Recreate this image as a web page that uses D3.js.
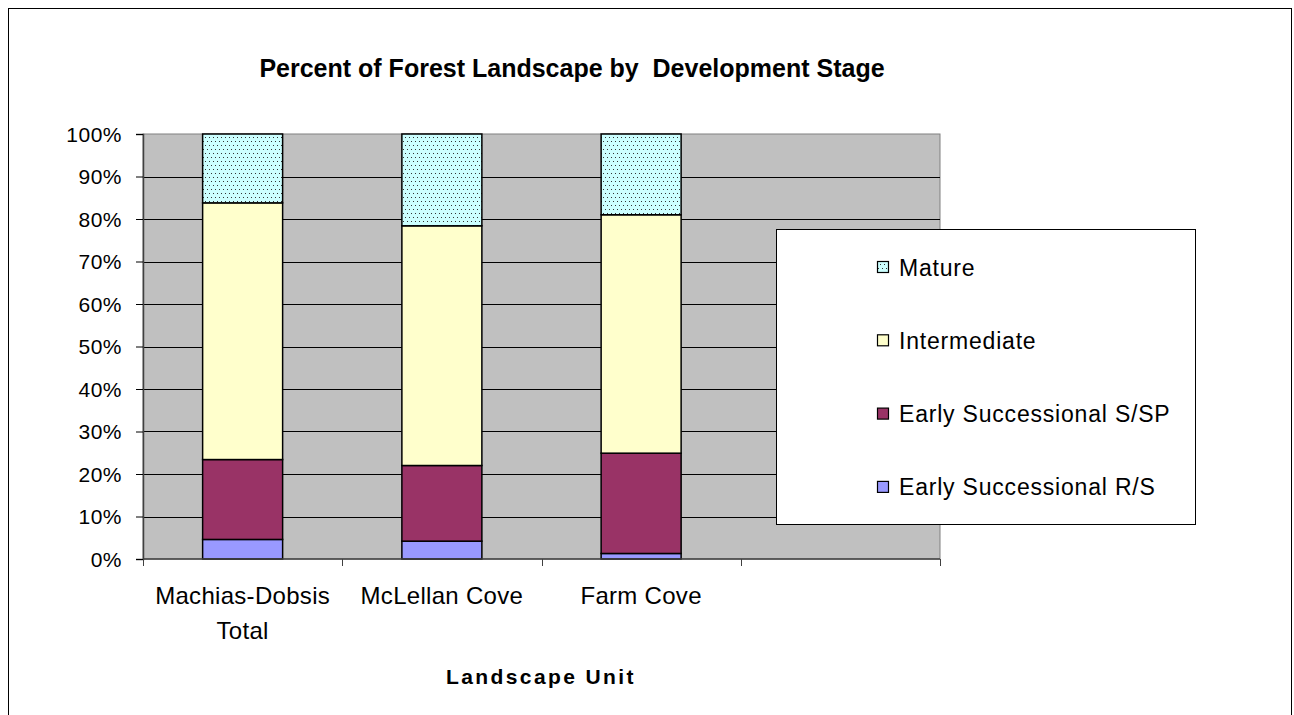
<!DOCTYPE html>
<html>
<head>
<meta charset="utf-8">
<script src="https://cdn.jsdelivr.net/npm/d3@7"></script>
<style>
  body { margin: 0; background: #fff; }
  svg text { font-family: "Liberation Sans", Arial, sans-serif; }
</style>
</head>
<body>
<svg id="chart" width="1294" height="715"></svg>
<script>
// data (percent of landscape)
const units = ["Machias-Dobsis Total", "McLellan Cove", "Farm Cove", ""];
const unitLines = [["Machias-Dobsis", "Total"], ["McLellan Cove"], ["Farm Cove"], [""]];
const stages = ["Early Successional R/S", "Early Successional S/SP", "Intermediate", "Mature"];
const earlyRS = [4.6, 4.2, 1.3, null];
const earlySSP = [18.8, 17.8, 23.6, null];
const intermediate = [60.4, 56.4, 56.1, null];
const mature = [16.2, 21.6, 19.0, null];
const yTicks = [0, 10, 20, 30, 40, 50, 60, 70, 80, 90, 100];

const colors = {
  "Early Successional R/S": "#9999FF",
  "Early Successional S/SP": "#993366",
  "Intermediate": "#FFFFCC",
  "Mature": "url(#dots)"
};

const svg = d3.select("#chart");

// dotted fill for Mature
const pat = svg.append("defs").append("pattern")
  .attr("id", "dots").attr("patternUnits", "userSpaceOnUse")
  .attr("width", 4).attr("height", 8);
pat.append("rect").attr("width", 4).attr("height", 8).attr("fill", "#CCFFFF");
pat.append("rect").attr("x", 1).attr("y", 1).attr("width", 1).attr("height", 1).attr("fill", "#333");
pat.append("rect").attr("x", 3).attr("y", 5).attr("width", 1).attr("height", 1).attr("fill", "#333");

// outer frame
svg.append("rect").attr("x", 8.5).attr("y", 8.5).attr("width", 1283).attr("height", 720)
  .attr("fill", "#fff").attr("stroke", "#000").attr("stroke-width", 1);

const plot = { left: 143, top: 134, right: 940, bottom: 559 };

const x = d3.scaleBand().domain(units).range([plot.left, plot.right]).paddingInner(0).paddingOuter(0);
const y = d3.scaleLinear().domain([0, 100]).range([plot.bottom, plot.top]);

svg.append("rect").attr("x", plot.left).attr("y", plot.top)
  .attr("width", plot.right - plot.left).attr("height", plot.bottom - plot.top)
  .attr("fill", "#C0C0C0").attr("stroke", "#808080").attr("stroke-width", 1);

// gridlines
svg.append("g").selectAll("line").data(yTicks.filter(d => d > 0 && d < 100)).join("line")
  .attr("x1", plot.left).attr("x2", plot.right)
  .attr("y1", d => Math.round(y(d)) + 0.5).attr("y2", d => Math.round(y(d)) + 0.5)
  .attr("stroke", "#000").attr("stroke-width", 1);

// stacked bars
const table = units.map((u, i) => ({
  unit: u,
  "Early Successional R/S": earlyRS[i],
  "Early Successional S/SP": earlySSP[i],
  "Intermediate": intermediate[i],
  "Mature": mature[i]
})).filter(d => d["Intermediate"] != null);

const series = d3.stack().keys(stages)(table);
const barW = 80;

svg.append("g").selectAll("g").data(series).join("g")
  .attr("fill", d => colors[d.key])
  .selectAll("rect").data(d => d).join("rect")
  .attr("x", d => x(d.data.unit) + x.bandwidth() / 2 - barW / 2)
  .attr("y", d => y(d[1]))
  .attr("width", barW)
  .attr("height", d => y(d[0]) - y(d[1]))
  .attr("stroke", "#000").attr("stroke-width", 1.5);

// y axis
const yAxis = d3.axisLeft(y).tickValues(yTicks).tickFormat(d => d + "%").tickSize(7).tickPadding(14);
const yg = svg.append("g").attr("transform", `translate(${plot.left},0)`).call(yAxis);
yg.select(".domain").attr("stroke", "#404040").attr("stroke-width", 1.5);
yg.selectAll(".tick line").attr("stroke", "#000");
yg.selectAll("text").attr("font-size", 21).attr("fill", "#000").attr("dy", "0.35em")
  .style("letter-spacing", "0.5px")
  .style("font-family", "'Liberation Sans', Arial, sans-serif");

// x axis: ticks on band boundaries
const xg = svg.append("g").attr("transform", `translate(0,${plot.bottom})`);
xg.append("line").attr("x1", plot.left).attr("x2", plot.right).attr("y1", 0).attr("y2", 0)
  .attr("stroke", "#404040").attr("stroke-width", 1.5);
const bounds = units.map(u => x(u)).concat([plot.right]);
xg.selectAll("line.tk").data(bounds).join("line").attr("class", "tk")
  .attr("x1", d => Math.round(d) + 0.5).attr("x2", d => Math.round(d) + 0.5)
  .attr("y1", 0).attr("y2", 7).attr("stroke", "#404040").attr("stroke-width", 1);
xg.selectAll("text").data(units).join("text")
  .attr("x", d => x(d) + x.bandwidth() / 2)
  .attr("text-anchor", "middle").attr("font-size", 24).style("letter-spacing", "0.3px")
  .selectAll("tspan").data((d, i) => unitLines[i]).join("tspan")
  .attr("x", function () { return d3.select(this.parentNode).attr("x"); })
  .attr("y", (d, j) => 45 + j * 35)
  .text(d => d);

// titles
svg.append("text").attr("x", 572).attr("y", 77).attr("text-anchor", "middle")
  .attr("font-size", 25).attr("font-weight", "bold").style("white-space", "pre")
  .text("Percent of Forest Landscape by  Development Stage");
svg.append("text").attr("x", 541).attr("y", 684).attr("text-anchor", "middle")
  .attr("font-size", 21).attr("font-weight", "bold").style("letter-spacing", "2.4px")
  .text("Landscape Unit");

// legend
const lg = svg.append("g");
lg.append("rect").attr("x", 776.5).attr("y", 229.5).attr("width", 419).attr("height", 295)
  .attr("fill", "#fff").attr("stroke", "#000").attr("stroke-width", 1);
const legendOrder = stages.slice().reverse();
const li = lg.selectAll("g").data(legendOrder).join("g")
  .attr("transform", (d, i) => `translate(877,${267 + i * 73.3})`);
li.append("rect").attr("x", 0.5).attr("y", -5.5).attr("width", 11).attr("height", 11)
  .attr("fill", d => colors[d]).attr("stroke", "#000").attr("stroke-width", 1.2);
li.append("text").attr("x", 22).attr("y", 8.5).attr("font-size", 23).style("letter-spacing", "0.8px")
  .text(d => d);
</script>
</body>
</html>
